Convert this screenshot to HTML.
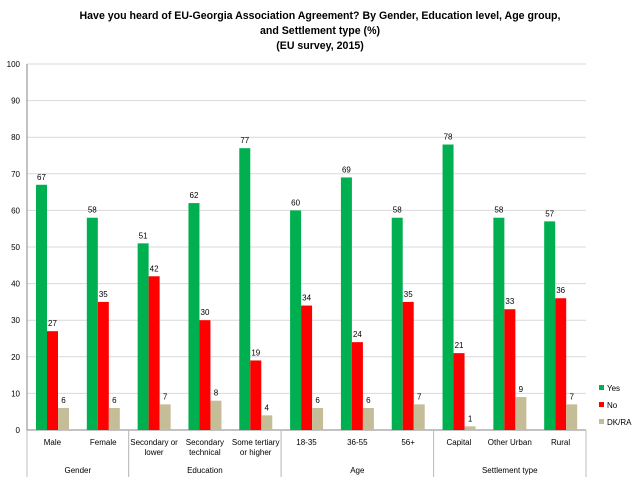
<!DOCTYPE html>
<html><head><meta charset="utf-8"><style>
body{margin:0;background:#fff;font-family:"Liberation Sans",sans-serif}
svg text{font-family:"Liberation Sans",sans-serif}
</style></head><body>
<svg id="c" width="640" height="480">
<text x="320" y="19" text-anchor="middle" font-size="10.6" font-weight="bold">Have you heard of EU-Georgia Association Agreement? By Gender, Education level, Age group,</text>
<text x="320" y="34" text-anchor="middle" font-size="10.6" font-weight="bold">and Settlement type (%)</text>
<text x="320" y="49" text-anchor="middle" font-size="10.6" font-weight="bold">(EU survey, 2015)</text>
<g id="g"></g>
</svg>
<script>
const categories=[["Male"],["Female"],["Secondary or","lower"],["Secondary","technical"],["Some tertiary","or higher"],["18-35"],["36-55"],["56+"],["Capital"],["Other Urban"],["Rural"]];
const yes=[67,58,51,62,77,60,69,58,78,58,57];
const no=[27,35,42,30,19,34,24,35,21,33,36];
const dk=[6,6,7,8,4,6,6,7,1,9,7];
const groups=[["Gender",0,2],["Education",2,5],["Age",5,8],["Settlement type",8,11]];
const ticks=[0,10,20,30,40,50,60,70,80,90,100];
const series=[["Yes",yes,"#00b050"],["No",no,"#ff0000"],["DK/RA",dk,"#c4bd97"]];
const NS="http://www.w3.org/2000/svg",g=document.getElementById("g");
const X0=27,X1=586,Y0=430,Y1=64,cw=(X1-X0)/categories.length,bw=11;
const y=v=>Y0-(v/100)*(Y0-Y1);
function mk(t,a,txt){const e=document.createElementNS(NS,t);for(const k in a)e.setAttribute(k,a[k]);if(txt!=null)e.textContent=txt;g.appendChild(e);return e;}
ticks.forEach(t=>{
 const l=mk("line",{x1:X0,x2:X1,y1:y(t),y2:y(t),stroke:t?"#d9d9d9":"#868686","stroke-width":1});
 
 
 const tx=mk("text",{x:20,y:y(t)+3,"text-anchor":"end","font-size":8},t);
 
 
});
const ax=mk("line",{x1:X0,x2:X0,y1:Y1,y2:Y0,stroke:"#868686"});


categories.forEach((c,i)=>{
 const cx=X0+cw*(i+0.5);
 series.forEach((s,j)=>{
  const v=s[1][i],bx=X0+cw*i+9+j*bw;
  const r=mk("rect",{x:bx,y:y(v),width:bw,height:Y0-y(v),fill:s[2]});
  
  
  const t=mk("text",{x:bx+bw/2,y:y(v)-5,"text-anchor":"middle","font-size":8},v);
  
  
 });
 c.forEach((ln,k)=>{
  const t=mk("text",{x:cx,y:445+k*10,"text-anchor":"middle","font-size":8},ln);
  
  
 });
});
groups.forEach(gr=>{
 const a=X0+cw*gr[1],b=X0+cw*gr[2];
 const t=mk("text",{x:(a+b)/2,y:473,"text-anchor":"middle","font-size":8},gr[0]);
 
 
 [a,b].forEach(xx=>{const l=mk("line",{x1:xx,x2:xx,y1:Y0,y2:477,stroke:"#bfbfbf"});
  
  });
});
series.forEach((s,j)=>{
 const r=mk("rect",{x:599,y:385+j*17,width:5,height:5,fill:s[2]});
 
 
 const t=mk("text",{x:607,y:391+j*17,"font-size":8},s[0]);
 
 
});
</script>
</body></html>
